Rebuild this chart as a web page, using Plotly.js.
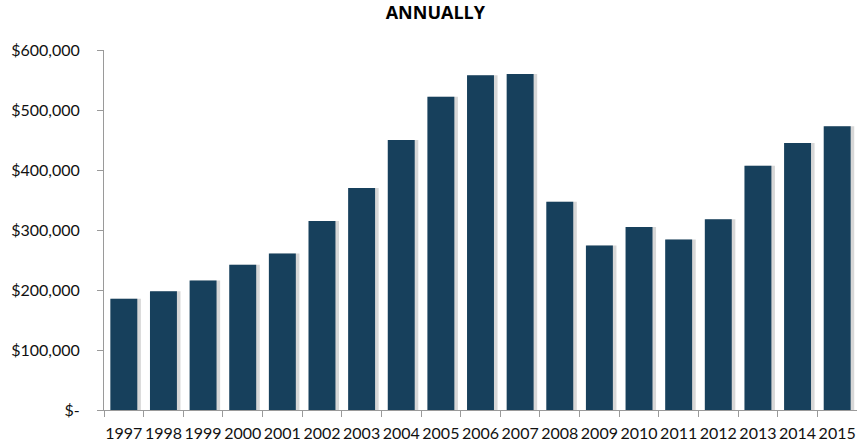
<!DOCTYPE html>
<html>
<head>
<meta charset="utf-8">
<script src="https://cdn.plot.ly/plotly-3.0.1.min.js"></script>
<style>html,body{margin:0;padding:0;background:#fff;}#chart{width:857px;height:446px;}</style>
</head>
<body>
<div id="chart"></div>
<script>
const years = ["1997","1998","1999","2000","2001","2002","2003","2004","2005","2006","2007","2008","2009","2010","2011","2012","2013","2014","2015"];
const values = [185500,198000,216000,242000,261000,315000,370000,450000,522000,558000,560000,347000,274000,305000,284000,318000,407000,445000,473000];
const yTickVals = [0,100000,200000,300000,400000,500000,600000];
const yTickText = ["$-","$100,000","$200,000","$300,000","$400,000","$500,000","$600,000"];

const shadow = {
  type: "bar", x: years, y: values, width: 0.74, offset: -0.31,
  marker: {color: "rgba(110,110,110,0.28)", line: {width: 0}},
  hoverinfo: "skip", showlegend: false
};
const bars = {
  type: "bar", x: years, y: values, width: 0.68, offset: -0.34,
  marker: {color: "#17405C", line: {width: 0}},
  showlegend: false
};
const layout = {
  width: 857, height: 446,
  margin: {l: 104, r: 0, t: 50, b: 36},
  paper_bgcolor: "#fff", plot_bgcolor: "#fff",
  barmode: "overlay",
  title: {text: "<b>ANNUALLY</b>", x: 0.508, xanchor: "center", y: 0.985, yanchor: "top",
          font: {family: "Open Sans, sans-serif", size: 18, color: "#000"}},
  font: {family: "Lato, sans-serif", size: 15, color: "#111"},
  xaxis: {type: "category", showgrid: false, showline: true, linecolor: "#9a9a9a", linewidth: 1,
          ticks: "outside", tickson: "boundaries", ticklen: 6, tickcolor: "#9a9a9a", tickangle: 0,
          tickfont: {size: 16, color: "#111"}, ticklabelstandoff: 9, range: [-0.5, 18.5]},
  yaxis: {range: [0, 600000], tickvals: yTickVals, ticktext: yTickText, showgrid: false,
          zeroline: false, showline: true, linecolor: "#9a9a9a", linewidth: 1,
          ticks: "outside", ticklen: 6, tickcolor: "#9a9a9a", ticklabelstandoff: 14,
          tickfont: {size: 16, color: "#111"}}
};
Plotly.newPlot("chart", [shadow, bars], layout, {displayModeBar: false, staticPlot: true});
</script>
</body>
</html>
